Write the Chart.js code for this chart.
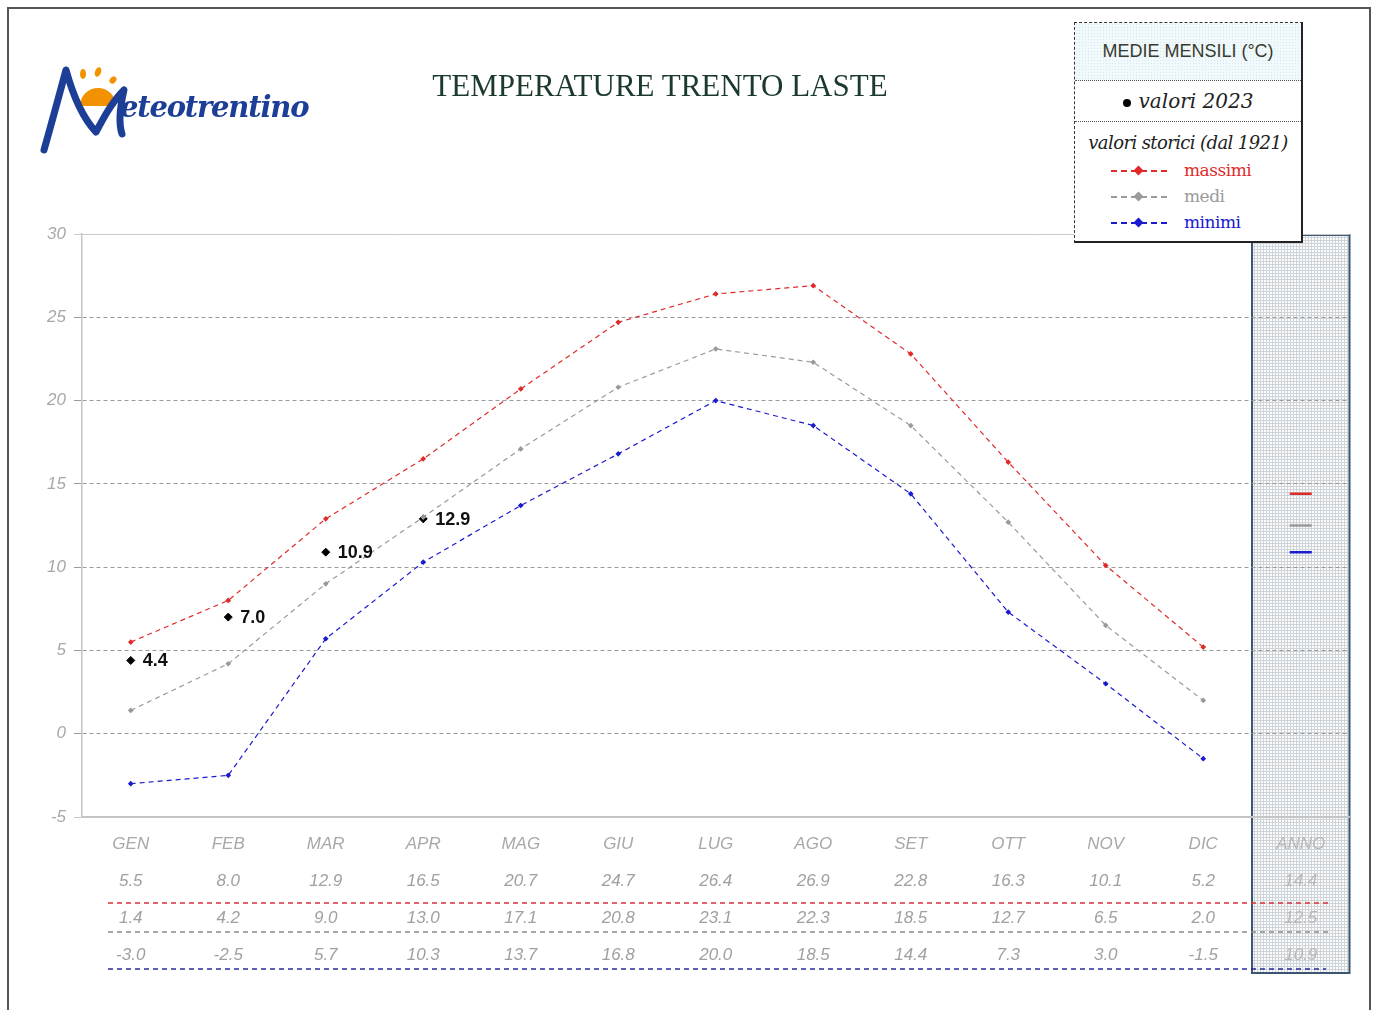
<!DOCTYPE html>
<html>
<head>
<meta charset="utf-8">
<script src="https://cdn.jsdelivr.net/npm/chart.js@4"></script>
<style>
  body { margin: 0; background: #fff; }
  #page { position: relative; width: 1374px; height: 1010px; overflow: hidden; }
  #frame { position: absolute; left: 7px; top: 7px; width: 1360px; height: 1020px; border: 2px solid #555; }
  #myChart { position: absolute; left: 0; top: 0; }
  #title { position: absolute; left: 360px; width: 600px; top: 68px; text-align: center;
    font: 31px "Liberation Serif", serif; color: #1b3a2c; }
  #logo { position: absolute; left: 38px; top: 62px; }
  #legend { position: absolute; left: 1074px; top: 22px; width: 226px; height: 218px;
    border: 1px dashed #333; border-right: 2px solid #222; border-bottom: 2px solid #222; background: #fff; }
  #legend .head { height: 57px; border-bottom: 1px dotted #555; text-align: center;
    font: 18px "Liberation Sans", Arial, sans-serif; line-height: 56px; color: #3a3a2e;
    background-color: #f0fafc;
    background-image: radial-gradient(#d9e6ea 0.8px, transparent 0.9px); background-size: 3px 3px; }
  #legend .y2023 { height: 40px; border-bottom: 1px dotted #555; text-align: center;
    font: italic 20px "DejaVu Serif", serif; line-height: 40px; color: #222; }
  #legend .y2023 b { display: inline-block; width: 8px; height: 8px; border-radius: 50%; background: #000; vertical-align: middle; margin-right: 8px; }
  #legend .hist { text-align: center; font: italic 18px "DejaVu Serif", serif; line-height: 24px; color: #222;
    margin-top: 9px; margin-bottom: 4px; letter-spacing: -0.6px; }
  #legend .row { position: relative; height: 26px; }
  #legend .row .ln { position: absolute; left: 36px; top: 11px; width: 56px; height: 0; border-top: 2px dashed; }
  #legend .row .dm { position: absolute; left: 60px; top: 8px; width: 7px; height: 7px; transform: rotate(45deg); }
  #legend .row span { position: absolute; left: 109px; top: 0; font: 17px "DejaVu Serif", serif; line-height: 22px; letter-spacing: -0.5px; }
</style>
</head>
<body>
<div id="page">
  <div id="frame"></div>
  <canvas id="myChart" width="1374" height="1010"></canvas>
  <svg id="logo" width="290" height="95" viewBox="0 0 290 95">
    <circle cx="60" cy="44" r="18" fill="#f39200"/>
    <rect x="40" y="44" width="45" height="30" fill="#fff"/>
    <ellipse cx="45" cy="12" rx="3" ry="5" fill="#f39200"/>
    <ellipse cx="60" cy="10" rx="3" ry="5" fill="#f39200" transform="rotate(20 60 10)"/>
    <ellipse cx="75" cy="18" rx="3" ry="4" fill="#f39200" transform="rotate(40 75 18)"/>
    <path d="M6 88 C14 60 22 30 28 8 C34 30 44 55 58 70 C66 55 74 40 86 28 C82 45 80 60 84 72"
          fill="none" stroke="#1d3e97" stroke-width="7" stroke-linecap="round" stroke-linejoin="round"/>
    <text x="82" y="55" font-family="DejaVu Serif" font-style="italic" font-weight="bold" font-size="29" fill="#1d3e97" letter-spacing="-1.2">eteotrentino</text>
  </svg>
  <div id="title">TEMPERATURE TRENTO LASTE</div>
  <div id="legend">
    <div class="head">MEDIE MENSILI (°C)</div>
    <div class="y2023"><b></b>valori 2023</div>
    <div class="hist">valori storici (dal 1921)</div>
    <div class="row"><div class="ln" style="border-color:#e02a2a"></div><div class="dm" style="background:#e02a2a"></div><span style="color:#e02a2a">massimi</span></div>
    <div class="row"><div class="ln" style="border-color:#9a9a9a"></div><div class="dm" style="background:#9a9a9a"></div><span style="color:#9a9a9a">medi</span></div>
    <div class="row"><div class="ln" style="border-color:#1a1ad0"></div><div class="dm" style="background:#1a1ad0"></div><span style="color:#1a1ad0">minimi</span></div>
  </div>
</div>
<script>
const months = ["GEN", "FEB", "MAR", "APR", "MAG", "GIU", "LUG", "AGO", "SET", "OTT", "NOV", "DIC"];
const labels = months.concat(["ANNO"]);
const maxHist = [5.5, 8.0, 12.9, 16.5, 20.7, 24.7, 26.4, 26.9, 22.8, 16.3, 10.1, 5.2];
const medHist = [1.4, 4.2, 9.0, 13.0, 17.1, 20.8, 23.1, 22.3, 18.5, 12.7, 6.5, 2.0];
const minHist = [-3.0, -2.5, 5.7, 10.3, 13.7, 16.8, 20.0, 18.5, 14.4, 7.3, 3.0, -1.5];
const annual = [14.4, 12.5, 10.9]; // massimi, medi, minimi
const values2023 = [4.4, 7.0, 10.9, 12.9];
const yTicks = [-5, 0, 5, 10, 15, 20, 25, 30];

const red = "#e02a2a";
const grey = "#9a9a9a";
const blue = "#1a1ad0";

function monthLine(data, color) {
  return {
    data: data.concat([null]),
    borderColor: color,
    backgroundColor: color,
    borderWidth: 1.2,
    borderDash: [5, 4],
    pointStyle: "rectRot",
    pointRadius: 2,
    tension: 0,
  };
}

function annualMark(value, color) {
  const d = new Array(12).fill(null);
  d.push(value);
  return {
    data: d,
    showLine: false,
    borderColor: color,
    pointStyle: "line",
    pointRadius: 11,
    pointBorderWidth: 2.5,
  };
}

// hatched pattern for the ANNO column
const tile = document.createElement("canvas");
tile.width = 3;
tile.height = 3;
const tctx = tile.getContext("2d");
tctx.fillStyle = "#fbfcfd";
tctx.fillRect(0, 0, 3, 3);
tctx.fillStyle = "#cfd4d8";
tctx.fillRect(0, 0, 3, 1);
tctx.fillRect(0, 0, 1, 3);

const tablePlugin = {
  id: "table",
  beforeDraw(chart) {
    const ctx = chart.ctx;
    const x = chart.scales.x;
    const half = (x.getPixelForValue(1) - x.getPixelForValue(0)) / 2;
    const cx = x.getPixelForValue(12);
    const top = chart.chartArea.top + 1;
    ctx.save();
    ctx.fillStyle = ctx.createPattern(tile, "repeat");
    ctx.fillRect(cx - half, top, half * 2, 973 - top);
    ctx.strokeStyle = "#3b566e";
    ctx.lineWidth = 2;
    ctx.strokeRect(cx - half, top, half * 2, 973 - top);
    ctx.restore();
  },
  afterDraw(chart) {
    const ctx = chart.ctx;
    const x = chart.scales.x;
    const y = chart.scales.y;
    ctx.save();
    // table under the chart
    ctx.font = "italic 17px 'Liberation Sans', Arial, sans-serif";
    ctx.textAlign = "center";
    ctx.textBaseline = "middle";
    const rows = [labels, maxHist.concat([annual[0]]), medHist.concat([annual[1]]), minHist.concat([annual[2]])];
    const rowY = [844, 881, 918, 955];
    rows.forEach((row, r) => {
      row.forEach((v, i) => {
        const txt = typeof v === "number" ? v.toFixed(1) : v;
        ctx.fillStyle = i === 12 ? "#b8b8b8" : (r === 0 ? "#a8a8a8" : "#a0a0a0");
        ctx.fillText(txt, x.getPixelForValue(i), rowY[r]);
      });
    });
    const seps = [[903, "#d8303a", 1330], [932, "#8a8a8a", 1330], [969, "#2a2a9a", 1326]];
    ctx.lineWidth = 1.5;
    ctx.setLineDash([5, 4]);
    seps.forEach(([sy, col, end]) => {
      ctx.strokeStyle = col;
      ctx.beginPath();
      ctx.moveTo(108, sy);
      ctx.lineTo(end, sy);
      ctx.stroke();
    });
    ctx.setLineDash([]);
    // 2023 value labels
    ctx.font = "bold 18px 'Liberation Sans', Arial, sans-serif";
    ctx.textAlign = "left";
    ctx.fillStyle = "#111";
    values2023.forEach((v, i) => {
      ctx.fillText(v.toFixed(1), x.getPixelForValue(i) + 12, y.getPixelForValue(v) + 1);
    });
    ctx.restore();
  },
};

const ctx = document.getElementById("myChart");
const myChart = new Chart(ctx, {
  type: "line",
  data: {
    labels: labels,
    datasets: [
      monthLine(maxHist, red),
      monthLine(medHist, grey),
      monthLine(minHist, blue),
      annualMark(annual[0], red),
      annualMark(annual[1], grey),
      annualMark(annual[2], blue),
      {
        data: values2023,
        showLine: false,
        pointStyle: "rectRot",
        pointRadius: 4,
        backgroundColor: "#000",
        borderColor: "#000",
      },
    ],
  },
  options: {
    responsive: false,
    animation: false,
    layout: { padding: { top: 234, right: 24.5, left: 0, bottom: 0 } },
    plugins: { legend: { display: false }, tooltip: { enabled: false } },
    scales: {
      x: {
        offset: true,
        ticks: { display: false },
        grid: { display: false },
        border: { display: true, color: "#c4c4c4", width: 1.5 },
        afterFit: (scale) => { scale.height = 193; },
      },
      y: {
        min: -5,
        max: 30,
        afterBuildTicks: (scale) => { scale.ticks = yTicks.map((v) => ({ value: v })); },
        afterFit: (scale) => { scale.width = 82; },
        ticks: {
          padding: 8,
          color: "#a8a8a8",
          font: { family: "'Liberation Sans', Arial, sans-serif", size: 17, style: "italic" },
        },
        grid: {
          color: (c) => (c.tick && (c.tick.value === 30 || c.tick.value === -5) ? "#c8c8c8" : "#9a9a9a"),
          tickLength: 8,
          lineWidth: 1,
        },
        border: {
          display: true,
          color: "#c4c4c4",
          width: 1.5,
          dash: (c) => (c.tick && (c.tick.value === 30 || c.tick.value === -5) ? [] : [4, 3]),
        },
      },
    },
  },
  plugins: [tablePlugin],
});
</script>
</body>
</html>
